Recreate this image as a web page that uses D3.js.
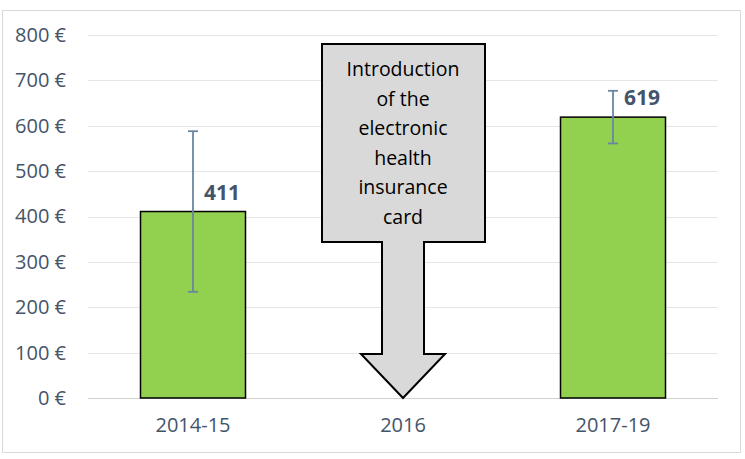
<!DOCTYPE html>
<html>
<head>
<meta charset="utf-8">
<script src="https://cdn.jsdelivr.net/npm/d3@7"></script>
<style>
body{margin:0;background:#fff;}
svg text{font-family:"Open Sans",sans-serif;}
</style>
</head>
<body>
<svg id="chart" width="745" height="459"></svg>
<script>
// data
var categories = ["2014-15", "2016", "2017-19"];
var values = [411, null, 619];
var errors = [177, null, 58];
var yTicks = [0, 100, 200, 300, 400, 500, 600, 700, 800];
var noteLines = ["Introduction", "of the", "electronic", "health", "insurance", "card"];

var width = 745, height = 459;
var m = {left: 88, right: 27, top: 35, bottom: 61};

var svg = d3.select("#chart");

// outer frame
svg.append("rect")
    .attr("x", 2.5).attr("y", 10.5)
    .attr("width", 738).attr("height", 442)
    .attr("fill", "#fff").attr("stroke", "#d9d9d9");

var x = d3.scaleBand()
    .domain(categories)
    .range([m.left, width - m.right])
    .paddingInner(0.5).paddingOuter(0.25);

var y = d3.scaleLinear()
    .domain([0, 800])
    .range([height - m.bottom, m.top]);

// grid
svg.append("g").selectAll("line")
    .data(yTicks)
  .enter().append("line")
    .attr("x1", m.left).attr("x2", width - m.right)
    .attr("y1", function(d){ return Math.round(y(d)) + 0.5; })
    .attr("y2", function(d){ return Math.round(y(d)) + 0.5; })
    .attr("stroke", function(d){ return d === 0 ? "#d0d0d0" : "#e6e6e6"; })
    .attr("stroke-width", 1);

// y axis labels
var yAxis = d3.axisLeft(y).tickValues(yTicks).tickSize(0).tickPadding(0)
    .tickFormat(function(d){ return d + " \u20ac"; });
var gy = svg.append("g").attr("transform", "translate(66,0)").call(yAxis);
gy.select(".domain").remove();
gy.selectAll("text").attr("font-size", 20).attr("fill", "#44546a")
    .attr("font-family", "'Open Sans',sans-serif");

// x axis labels
var xAxis = d3.axisBottom(x).tickSize(0).tickPadding(0);
var gx = svg.append("g").attr("transform", "translate(0," + (y(0) + 20) + ")").call(xAxis);
gx.select(".domain").remove();
gx.selectAll("text").attr("font-size", 20).attr("fill", "#44546a")
    .attr("font-family", "'Open Sans',sans-serif");

var barData = categories.map(function(c, i){ return {cat: c, v: values[i], e: errors[i]}; })
    .filter(function(d){ return d.v !== null; });

// bars
svg.append("g").selectAll("rect")
    .data(barData)
  .enter().append("rect")
    .attr("x", function(d){ return x(d.cat); })
    .attr("y", function(d){ return y(d.v); })
    .attr("width", x.bandwidth())
    .attr("height", function(d){ return y(0) - y(d.v); })
    .attr("fill", "#92d050")
    .attr("stroke", "#000")
    .attr("stroke-width", 1.5);

// error bars
var eb = svg.append("g").selectAll("g")
    .data(barData)
  .enter().append("g")
    .attr("stroke", "#6b85a0").attr("stroke-width", 1.8);
eb.append("line")
    .attr("x1", function(d){ return x(d.cat) + x.bandwidth()/2; })
    .attr("x2", function(d){ return x(d.cat) + x.bandwidth()/2; })
    .attr("y1", function(d){ return y(d.v + d.e); })
    .attr("y2", function(d){ return y(d.v - d.e); });
eb.selectAll("line.cap")
    .data(function(d){ return [d.v + d.e, d.v - d.e].map(function(v){ return {cat: d.cat, v: v}; }); })
  .enter().append("line").attr("class", "cap")
    .attr("x1", function(d){ return x(d.cat) + x.bandwidth()/2 - 5; })
    .attr("x2", function(d){ return x(d.cat) + x.bandwidth()/2 + 5; })
    .attr("y1", function(d){ return y(d.v); })
    .attr("y2", function(d){ return y(d.v); });

// value labels
svg.append("g").selectAll("text")
    .data(barData)
  .enter().append("text")
    .attr("x", function(d){ return x(d.cat) + x.bandwidth()/2 + 11; })
    .attr("y", function(d){ return y(d.v) - 12; })
    .attr("font-size", 21).attr("font-weight", "bold")
    .attr("fill", "#44546a")
    .text(function(d){ return d.v; });

// arrow callout over 2016
var cx = x("2016") + x.bandwidth()/2;
var boxL = cx - 81, boxR = cx + 82, boxT = 44, boxB = 242;
var shaftHalf = 21, headHalf = 42, headTop = 354, tip = y(0);
var arrow = [
  [boxL, boxT], [boxR, boxT], [boxR, boxB], [cx + shaftHalf, boxB],
  [cx + shaftHalf, headTop], [cx + headHalf, headTop], [cx, tip],
  [cx - headHalf, headTop], [cx - shaftHalf, headTop], [cx - shaftHalf, boxB],
  [boxL, boxB]
];
svg.append("path")
    .attr("d", d3.line()(arrow) + "Z")
    .attr("fill", "#d9d9d9")
    .attr("stroke", "#000")
    .attr("stroke-width", 2)
    .attr("stroke-linejoin", "miter");

svg.append("g").selectAll("text")
    .data(noteLines)
  .enter().append("text")
    .attr("x", cx)
    .attr("y", function(d, i){ return 76 + i * 29.6; })
    .attr("text-anchor", "middle")
    .attr("font-size", 19.5)
    .attr("fill", "#000")
    .text(function(d){ return d; });
</script>
</body>
</html>
